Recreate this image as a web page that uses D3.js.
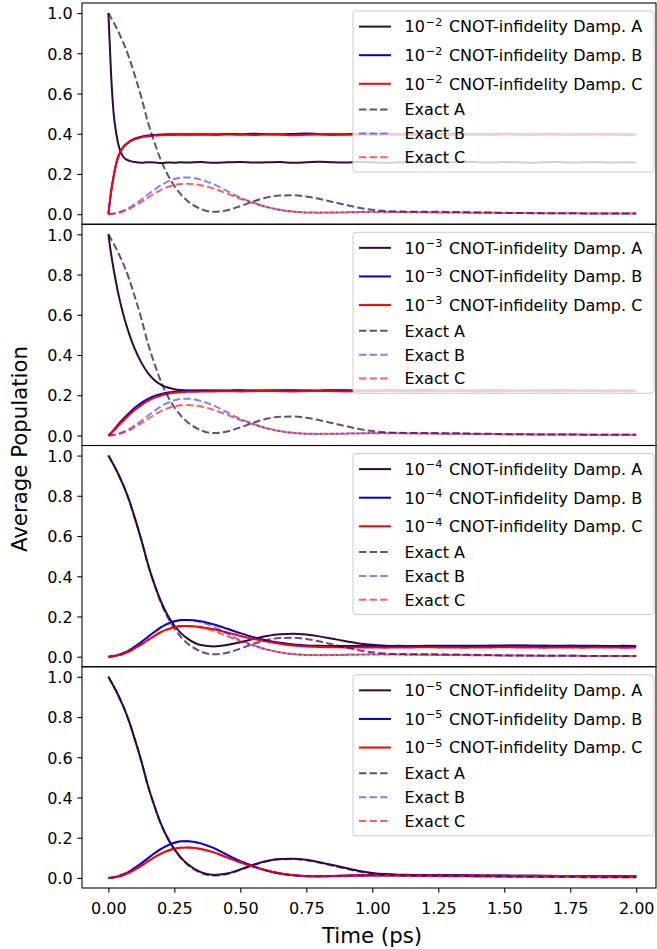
<!DOCTYPE html>
<html><head><meta charset="utf-8">
<script src="https://cdn.jsdelivr.net/npm/d3@7"></script>
<style>
body{margin:0;background:#fff}
svg{display:block}
text{font-family:"DejaVu Sans",sans-serif}
</style>
</head><body>
<svg id="chart" width="657" height="949"></svg>
<script>
// ---------------- DATA ----------------
const timePs = [0,0.01,0.02,0.03,0.04,0.05,0.06,0.08,0.10,0.125,0.15,0.175,0.20,0.225,0.25,0.275,0.30,
  0.35,0.40,0.45,0.50,0.55,0.60,0.65,0.70,0.75,0.80,0.85,0.90,0.95,1.00,1.05,1.10,1.15,1.20,1.25,1.30,1.35,
  1.40,1.45,1.50,1.55,1.60,1.65,1.70,1.75,1.80,1.85,1.90,1.95,2.00];

const exactA = [1.000,0.977,0.953,0.928,0.901,0.872,0.842,0.772,0.690,0.580,0.457,0.355,0.265,0.195,0.140,0.098,0.066,
  0.026,0.012,0.020,0.040,0.064,0.083,0.093,0.094,0.088,0.076,0.061,0.046,0.032,0.022,0.016,0.013,0.012,0.012,0.012,0.011,0.010,
  0.009,0.008,0.007,0.006,0.006,0.005,0.005,0.005,0.004,0.004,0.004,0.004,0.004];
const exactB = [0,0.001,0.003,0.006,0.010,0.015,0.020,0.033,0.050,0.073,0.098,0.123,0.145,0.162,0.175,0.182,0.183,
  0.172,0.148,0.115,0.082,0.057,0.036,0.021,0.012,0.008,0.007,0.008,0.010,0.011,0.012,0.012,0.012,0.011,0.010,0.009,0.008,0.008,
  0.007,0.007,0.006,0.006,0.005,0.005,0.005,0.005,0.004,0.004,0.004,0.004,0.004];
const exactC = [0,0.001,0.002,0.005,0.008,0.011,0.016,0.027,0.041,0.061,0.082,0.103,0.121,0.135,0.145,0.150,0.151,
  0.144,0.127,0.102,0.077,0.055,0.036,0.022,0.013,0.009,0.008,0.008,0.009,0.010,0.011,0.011,0.011,0.010,0.010,0.009,0.008,0.008,
  0.007,0.007,0.006,0.006,0.005,0.005,0.005,0.005,0.004,0.004,0.004,0.004,0.004];

// 10^-2 CNOT infidelity
const dampA_e2 = [1.000,0.700,0.500,0.400,0.335,0.300,0.280,0.265,0.259,0.256,0.258,0.257,0.255,0.257,0.256,0.258,0.257,
  0.259,0.256,0.258,0.260,0.257,0.258,0.259,0.256,0.258,0.261,0.258,0.257,0.259,0.258,0.256,0.258,0.260,0.259,0.257,0.258,0.260,
  0.258,0.257,0.259,0.258,0.256,0.258,0.259,0.257,0.258,0.259,0.257,0.258,0.257];
const dampB_e2 = [0,0.110,0.190,0.255,0.295,0.322,0.340,0.362,0.375,0.385,0.391,0.394,0.396,0.397,0.397,0.398,0.398,
  0.398,0.397,0.399,0.398,0.400,0.398,0.397,0.399,0.401,0.398,0.397,0.398,0.400,0.399,0.398,0.397,0.398,0.399,0.398,0.400,0.398,
  0.397,0.398,0.399,0.398,0.397,0.398,0.399,0.397,0.398,0.398,0.397,0.398,0.397];
const dampC_e2 = [0,0.108,0.188,0.252,0.292,0.319,0.337,0.359,0.372,0.382,0.388,0.391,0.393,0.394,0.394,0.395,0.394,
  0.395,0.394,0.396,0.395,0.394,0.396,0.395,0.393,0.395,0.396,0.394,0.395,0.395,0.394,0.396,0.395,0.394,0.395,0.396,0.394,0.395,
  0.395,0.394,0.396,0.395,0.394,0.395,0.395,0.394,0.395,0.396,0.395,0.394,0.395];

// 10^-3 CNOT infidelity
const dampA_e3 = [1.000,0.905,0.825,0.755,0.690,0.635,0.585,0.500,0.430,0.362,0.310,0.275,0.252,0.238,0.230,0.226,0.224,
  0.223,0.222,0.221,0.223,0.222,0.222,0.221,0.223,0.222,0.221,0.222,0.223,0.222,0.221,0.222,0.222,0.223,0.222,0.221,0.222,0.223,
  0.222,0.221,0.222,0.222,0.223,0.222,0.221,0.222,0.222,0.221,0.222,0.222,0.221];
const dampB_e3 = [0,0.012,0.027,0.043,0.058,0.073,0.087,0.113,0.137,0.162,0.182,0.196,0.206,0.213,0.217,0.220,0.222,
  0.223,0.224,0.224,0.225,0.223,0.224,0.225,0.224,0.223,0.224,0.225,0.224,0.224,0.223,0.225,0.224,0.224,0.225,0.224,0.223,0.224,
  0.224,0.225,0.224,0.223,0.224,0.224,0.225,0.224,0.223,0.224,0.224,0.223,0.224];
const dampC_e3 = [0,0.010,0.023,0.037,0.051,0.065,0.078,0.103,0.126,0.151,0.172,0.188,0.199,0.207,0.212,0.215,0.217,
  0.218,0.219,0.220,0.219,0.220,0.221,0.220,0.219,0.220,0.221,0.220,0.219,0.220,0.220,0.221,0.220,0.219,0.220,0.220,0.221,0.220,
  0.219,0.220,0.220,0.221,0.220,0.219,0.220,0.220,0.221,0.220,0.219,0.220,0.220];

// 10^-4 CNOT infidelity
const dampA_e4 = [1.000,0.977,0.953,0.928,0.901,0.872,0.842,0.772,0.690,0.580,0.460,0.358,0.272,0.205,0.155,0.117,0.090,
  0.058,0.051,0.058,0.072,0.088,0.103,0.112,0.114,0.110,0.101,0.089,0.077,0.066,0.059,0.055,0.053,0.052,0.052,0.052,0.053,0.052,
  0.053,0.054,0.054,0.055,0.054,0.054,0.053,0.054,0.053,0.053,0.052,0.053,0.052];
const dampB_e4 = [0,0.001,0.003,0.006,0.010,0.015,0.020,0.033,0.050,0.073,0.099,0.124,0.147,0.164,0.176,0.182,0.183,
  0.176,0.160,0.139,0.117,0.097,0.081,0.069,0.061,0.056,0.054,0.053,0.053,0.053,0.053,0.053,0.054,0.053,0.054,0.054,0.055,0.054,
  0.054,0.055,0.055,0.056,0.055,0.055,0.054,0.055,0.054,0.054,0.053,0.054,0.053];
const dampC_e4 = [0,0.001,0.002,0.005,0.008,0.011,0.016,0.027,0.041,0.061,0.083,0.104,0.123,0.137,0.147,0.152,0.153,
  0.148,0.136,0.120,0.103,0.088,0.075,0.064,0.056,0.051,0.048,0.047,0.046,0.046,0.046,0.045,0.046,0.046,0.047,0.046,0.046,0.045,
  0.046,0.046,0.047,0.046,0.046,0.045,0.046,0.046,0.045,0.046,0.046,0.045,0.046];

// 10^-5 CNOT infidelity
const dampA_e5 = [1.000,0.977,0.953,0.928,0.901,0.872,0.842,0.772,0.690,0.580,0.458,0.356,0.266,0.197,0.143,0.101,0.069,
  0.029,0.015,0.022,0.042,0.066,0.084,0.094,0.095,0.090,0.078,0.064,0.049,0.035,0.025,0.019,0.016,0.015,0.014,0.014,0.013,0.013,
  0.012,0.012,0.012,0.011,0.011,0.011,0.010,0.010,0.010,0.010,0.009,0.009,0.009];
const dampB_e5 = [0,0.001,0.003,0.006,0.010,0.015,0.020,0.033,0.050,0.073,0.098,0.123,0.145,0.162,0.175,0.182,0.183,
  0.172,0.148,0.115,0.083,0.058,0.037,0.022,0.013,0.009,0.009,0.010,0.012,0.013,0.014,0.014,0.014,0.013,0.013,0.013,0.012,0.012,
  0.012,0.011,0.011,0.011,0.011,0.010,0.010,0.010,0.010,0.010,0.010,0.009,0.009];
const dampC_e5 = [0,0.001,0.002,0.005,0.008,0.011,0.016,0.027,0.041,0.061,0.082,0.103,0.121,0.135,0.145,0.150,0.151,
  0.144,0.127,0.102,0.078,0.056,0.037,0.023,0.014,0.010,0.009,0.010,0.011,0.012,0.013,0.013,0.013,0.012,0.012,0.012,0.011,0.011,
  0.011,0.011,0.010,0.010,0.010,0.010,0.010,0.010,0.009,0.009,0.009,0.009,0.009];

const infidelityExponents = ["−2","−3","−4","−5"];
const dampSeries = [
  [dampA_e2, dampB_e2, dampC_e2],
  [dampA_e3, dampB_e3, dampC_e3],
  [dampA_e4, dampB_e4, dampC_e4],
  [dampA_e5, dampB_e5, dampC_e5]
];
const exactSeries = [exactA, exactB, exactC];
const seriesLetters = ["A","B","C"];
const yTicks = [0.0,0.2,0.4,0.6,0.8,1.0];
const xTicks = [0,0.25,0.5,0.75,1.0,1.25,1.5,1.75,2.0];

// ---------------- STYLE ----------------
const solidColors = ["#2f0a3d","#0000cc","#ff0000"];
const exactColors = ["#2f0a3d","#0000ff","#ff0000"];
const exactOpacity = [0.72,0.5,0.62];

const W=657,H=949;
const axLeft=82,axRight=656,axTop=3,axBottom=888;
const panelH=(axBottom-axTop)/4;
const x=d3.scaleLinear().domain([-0.1,2.075]).range([axLeft,axRight]);
const svg=d3.select("#chart");
svg.append("rect").attr("width",W).attr("height",H).attr("fill","#fff");

const rowOff=[15.6,44.2,72.8,98.5,122.5,146.3];
const legX=353, legW=301, legH=161;

dampSeries.forEach((ser,i)=>{
  const y0=axTop+i*panelH, y1=y0+panelH;
  const y=d3.scaleLinear().domain([-0.05,1.05]).range([y1,y0]);
  const g=svg.append("g");
  const line=d3.line().x((d,j)=>x(timePs[j])).y(d=>y(d)).curve(d3.curveMonotoneX);

  ser.forEach((vals,k)=>{
    g.append("path").attr("d",line(vals)).attr("fill","none")
      .attr("stroke",solidColors[k]).attr("stroke-width",2).attr("stroke-linejoin","round");
  });
  exactSeries.forEach((vals,k)=>{
    g.append("path").attr("d",line(vals)).attr("fill","none")
      .attr("stroke",exactColors[k]).attr("stroke-opacity",exactOpacity[k])
      .attr("stroke-width",2).attr("stroke-dasharray","7.4,3.2");
  });

  const ay=g.append("g").attr("transform",`translate(${axLeft},0)`)
    .call(d3.axisLeft(y).tickValues(yTicks).tickFormat(d3.format(".1f")).tickSize(4.7).tickPadding(4.7));
  ay.select(".domain").remove();
  ay.selectAll("line").attr("stroke","#000").attr("stroke-width",1.07);
  ay.selectAll("text").attr("font-size",16).attr("font-family","DejaVu Sans").attr("fill","#000").attr("dy","0.36em");

  g.append("rect").attr("x",axLeft).attr("y",y0).attr("width",axRight-axLeft).attr("height",panelH)
    .attr("fill","none").attr("stroke","#000").attr("stroke-width",1.07);

  const ly=y0+8;
  const lg=g.append("g");
  lg.append("rect").attr("x",legX).attr("y",ly).attr("width",legW).attr("height",legH)
    .attr("rx",3).attr("fill","#fff").attr("fill-opacity",0.8).attr("stroke","#cccccc").attr("stroke-width",1);
  [0,1,2,3,4,5].forEach(r=>{
    const cy=ly+rowOff[r];
    const k=r%3;
    const isExact=r>=3;
    lg.append("line").attr("x1",legX+6).attr("x2",legX+38).attr("y1",cy).attr("y2",cy)
      .attr("stroke",isExact?exactColors[k]:solidColors[k])
      .attr("stroke-opacity",isExact?exactOpacity[k]:1)
      .attr("stroke-width",2)
      .attr("stroke-dasharray",isExact?"7.4,3.2":null);
    const t=lg.append("text").attr("x",legX+51.5).attr("y",cy+5.8).attr("font-size",16).attr("fill","#000");
    if(!isExact){
      t.append("tspan").text("10");
      t.append("tspan").attr("dx",1).attr("dy",-6.5).attr("font-size",11.2).text(infidelityExponents[i]);
      t.append("tspan").attr("dx",1.5).attr("dy",6.5).text(" CNOT-infidelity Damp. "+seriesLetters[k]);
    } else {
      t.text("Exact "+seriesLetters[k]);
    }
  });
});

const ax=svg.append("g").attr("transform",`translate(0,${axBottom})`)
  .call(d3.axisBottom(x).tickValues(xTicks).tickFormat(d3.format(".2f")).tickSize(4.7).tickPadding(4.7));
ax.select(".domain").remove();
ax.selectAll("line").attr("stroke","#000").attr("stroke-width",1.07);
ax.selectAll("text").attr("font-size",16).attr("font-family","DejaVu Sans").attr("fill","#000").attr("dy",null).attr("y",25.5);

svg.append("text").attr("x",372).attr("y",943).attr("text-anchor","middle").attr("font-size",21.3).attr("fill","#000").text("Time (ps)");
svg.append("text").attr("transform","translate(26.5,449) rotate(-90)").attr("text-anchor","middle")
  .attr("font-size",21.3).attr("fill","#000").text("Average Population");
</script>
</body></html>
